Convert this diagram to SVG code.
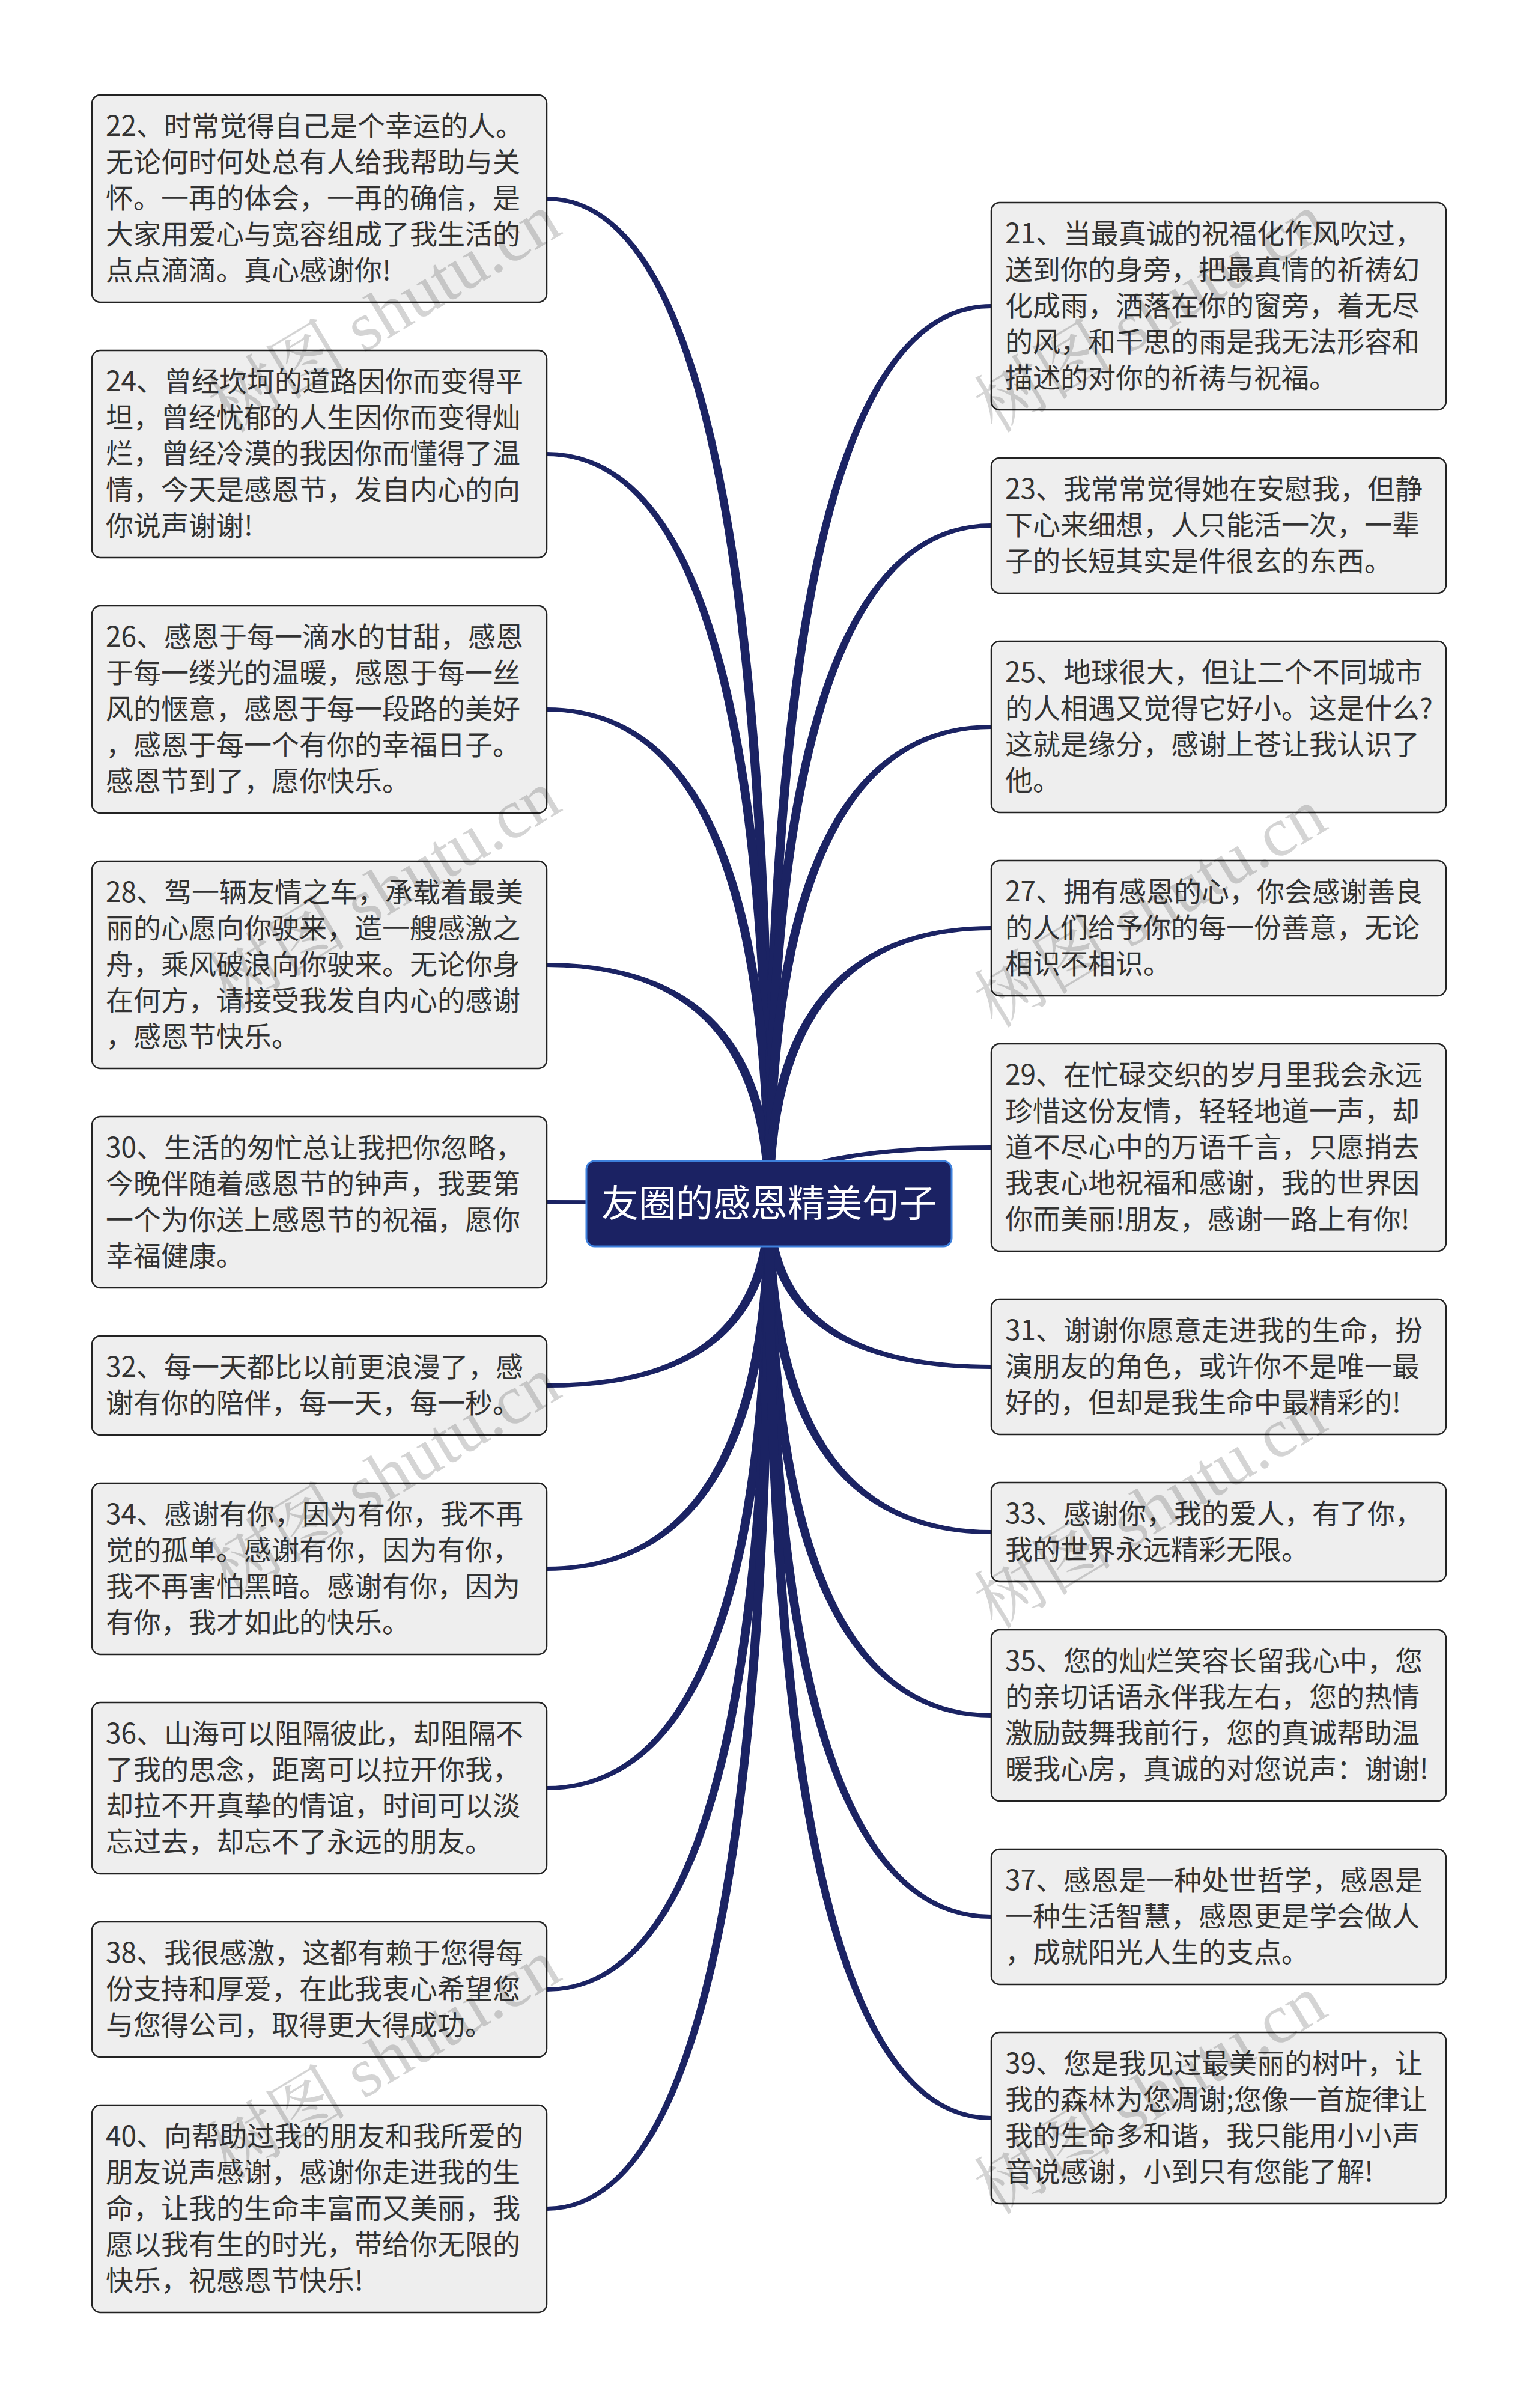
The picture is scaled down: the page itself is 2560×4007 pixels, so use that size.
<svg xmlns="http://www.w3.org/2000/svg" width="2560" height="4007" viewBox="0 0 2560 4007">
<style>
.bg{fill:#ffffff}
.leaf rect{fill:#eeeeee;stroke:#222222;stroke-width:2.5}
.leaf text{font-family:"Noto Sans CJK SC","Noto Sans",sans-serif;font-size:46px;fill:#333333}
.conn path{fill:#1b2363;stroke:none}
.root rect{fill:#1b2263;stroke:#3d7fdb;stroke-width:3}
.root text{font-family:"Noto Sans CJK SC","Noto Sans",sans-serif;font-size:62px;fill:#ffffff;text-anchor:middle}
.wm text{font-family:"Liberation Serif","Noto Serif CJK SC","Noto Sans CJK SC",serif;font-size:116px;fill:#000000;fill-opacity:0.17;text-anchor:middle}
</style>
<rect class="bg" x="0" y="0" width="2560" height="4007"/>
<g class="conn" id="connectors">
<path d="M1288,2003 Q1288,327 910,327 L910,334 Q1272,334 1272,2003 Z"/>
<path d="M1288,2003 Q1288,752 910,752 L910,759 Q1272,759 1272,2003 Z"/>
<path d="M1288,2003 Q1288,1177 910,1177 L910,1184 Q1272,1184 1272,2003 Z"/>
<path d="M1288,2003 Q1288,1602 910,1602 L910,1609 Q1272,1609 1272,2003 Z"/>
<path d="M1288,2003 Q1288,1997 910,1997 L910,2004 Q1272,2004 1272,2003 Z"/>
<path d="M1288,2003 Q1288,2309 910,2309 L910,2302 Q1272,2302 1272,2003 Z"/>
<path d="M1288,2003 Q1288,2614 910,2614 L910,2607 Q1272,2607 1272,2003 Z"/>
<path d="M1288,2003 Q1288,2979 910,2979 L910,2972 Q1272,2972 1272,2003 Z"/>
<path d="M1288,2003 Q1288,3314 910,3314 L910,3307 Q1272,3307 1272,2003 Z"/>
<path d="M1288,2003 Q1288,3679 910,3679 L910,3672 Q1272,3672 1272,2003 Z"/>
<path d="M1272,2003 Q1272,506 1650,506 L1650,513 Q1288,513 1288,2003 Z"/>
<path d="M1272,2003 Q1272,871 1650,871 L1650,878 Q1288,878 1288,2003 Z"/>
<path d="M1272,2003 Q1272,1206 1650,1206 L1650,1213 Q1288,1213 1288,2003 Z"/>
<path d="M1272,2003 Q1272,1541 1650,1541 L1650,1548 Q1288,1548 1288,2003 Z"/>
<path d="M1272,2003 Q1272,1906 1650,1906 L1650,1913 Q1288,1913 1288,2003 Z"/>
<path d="M1272,2003 Q1272,2278 1650,2278 L1650,2271 Q1288,2271 1288,2003 Z"/>
<path d="M1272,2003 Q1272,2553 1650,2553 L1650,2546 Q1288,2546 1288,2003 Z"/>
<path d="M1272,2003 Q1272,2858 1650,2858 L1650,2851 Q1288,2851 1288,2003 Z"/>
<path d="M1272,2003 Q1272,3193 1650,3193 L1650,3186 Q1288,3186 1288,2003 Z"/>
<path d="M1272,2003 Q1272,3528 1650,3528 L1650,3521 Q1288,3521 1288,2003 Z"/>
</g>
<g class="root" id="root">
<rect x="976" y="1932" width="608" height="142" rx="14"/>
<text x="1280" y="2025">友圈的感恩精美句子</text>
</g>
<g class="leaf" id="n22">
<rect x="153" y="158" width="757" height="345" rx="14"/>
<text x="176" y="226">22、时常觉得自己是个幸运的人。</text>
<text x="176" y="286">无论何时何处总有人给我帮助与关</text>
<text x="176" y="346">怀。一再的体会，一再的确信，是</text>
<text x="176" y="406">大家用爱心与宽容组成了我生活的</text>
<text x="176" y="466">点点滴滴。真心感谢你!</text>
</g>
<g class="leaf" id="n24">
<rect x="153" y="583" width="757" height="345" rx="14"/>
<text x="176" y="651">24、曾经坎坷的道路因你而变得平</text>
<text x="176" y="711">坦，曾经忧郁的人生因你而变得灿</text>
<text x="176" y="771">烂，曾经冷漠的我因你而懂得了温</text>
<text x="176" y="831">情，今天是感恩节，发自内心的向</text>
<text x="176" y="891">你说声谢谢!</text>
</g>
<g class="leaf" id="n26">
<rect x="153" y="1008" width="757" height="345" rx="14"/>
<text x="176" y="1076">26、感恩于每一滴水的甘甜，感恩</text>
<text x="176" y="1136">于每一缕光的温暖，感恩于每一丝</text>
<text x="176" y="1196">风的惬意，感恩于每一段路的美好</text>
<text x="176" y="1256">，感恩于每一个有你的幸福日子。</text>
<text x="176" y="1316">感恩节到了，愿你快乐。</text>
</g>
<g class="leaf" id="n28">
<rect x="153" y="1433" width="757" height="345" rx="14"/>
<text x="176" y="1501">28、驾一辆友情之车，承载着最美</text>
<text x="176" y="1561">丽的心愿向你驶来，造一艘感激之</text>
<text x="176" y="1621">舟，乘风破浪向你驶来。无论你身</text>
<text x="176" y="1681">在何方，请接受我发自内心的感谢</text>
<text x="176" y="1741">，感恩节快乐。</text>
</g>
<g class="leaf" id="n30">
<rect x="153" y="1858" width="757" height="285" rx="14"/>
<text x="176" y="1926">30、生活的匆忙总让我把你忽略，</text>
<text x="176" y="1986">今晚伴随着感恩节的钟声，我要第</text>
<text x="176" y="2046">一个为你送上感恩节的祝福，愿你</text>
<text x="176" y="2106">幸福健康。</text>
</g>
<g class="leaf" id="n32">
<rect x="153" y="2223" width="757" height="165" rx="14"/>
<text x="176" y="2291">32、每一天都比以前更浪漫了，感</text>
<text x="176" y="2351">谢有你的陪伴，每一天，每一秒。</text>
</g>
<g class="leaf" id="n34">
<rect x="153" y="2468" width="757" height="285" rx="14"/>
<text x="176" y="2536">34、感谢有你，因为有你，我不再</text>
<text x="176" y="2596">觉的孤单。感谢有你，因为有你，</text>
<text x="176" y="2656">我不再害怕黑暗。感谢有你，因为</text>
<text x="176" y="2716">有你，我才如此的快乐。</text>
</g>
<g class="leaf" id="n36">
<rect x="153" y="2833" width="757" height="285" rx="14"/>
<text x="176" y="2901">36、山海可以阻隔彼此，却阻隔不</text>
<text x="176" y="2961">了我的思念，距离可以拉开你我，</text>
<text x="176" y="3021">却拉不开真挚的情谊，时间可以淡</text>
<text x="176" y="3081">忘过去，却忘不了永远的朋友。</text>
</g>
<g class="leaf" id="n38">
<rect x="153" y="3198" width="757" height="225" rx="14"/>
<text x="176" y="3266">38、我很感激，这都有赖于您得每</text>
<text x="176" y="3326">份支持和厚爱，在此我衷心希望您</text>
<text x="176" y="3386">与您得公司，取得更大得成功。</text>
</g>
<g class="leaf" id="n40">
<rect x="153" y="3503" width="757" height="345" rx="14"/>
<text x="176" y="3571">40、向帮助过我的朋友和我所爱的</text>
<text x="176" y="3631">朋友说声感谢，感谢你走进我的生</text>
<text x="176" y="3691">命，让我的生命丰富而又美丽，我</text>
<text x="176" y="3751">愿以我有生的时光，带给你无限的</text>
<text x="176" y="3811">快乐，祝感恩节快乐!</text>
</g>
<g class="leaf" id="n21">
<rect x="1650" y="337" width="757" height="345" rx="14"/>
<text x="1673" y="405">21、当最真诚的祝福化作风吹过，</text>
<text x="1673" y="465">送到你的身旁，把最真情的祈祷幻</text>
<text x="1673" y="525">化成雨，洒落在你的窗旁，着无尽</text>
<text x="1673" y="585">的风，和千思的雨是我无法形容和</text>
<text x="1673" y="645">描述的对你的祈祷与祝福。</text>
</g>
<g class="leaf" id="n23">
<rect x="1650" y="762" width="757" height="225" rx="14"/>
<text x="1673" y="830">23、我常常觉得她在安慰我，但静</text>
<text x="1673" y="890">下心来细想，人只能活一次，一辈</text>
<text x="1673" y="950">子的长短其实是件很玄的东西。</text>
</g>
<g class="leaf" id="n25">
<rect x="1650" y="1067" width="757" height="285" rx="14"/>
<text x="1673" y="1135">25、地球很大，但让二个不同城市</text>
<text x="1673" y="1195">的人相遇又觉得它好小。这是什么?</text>
<text x="1673" y="1255">这就是缘分，感谢上苍让我认识了</text>
<text x="1673" y="1315">他。</text>
</g>
<g class="leaf" id="n27">
<rect x="1650" y="1432" width="757" height="225" rx="14"/>
<text x="1673" y="1500">27、拥有感恩的心，你会感谢善良</text>
<text x="1673" y="1560">的人们给予你的每一份善意，无论</text>
<text x="1673" y="1620">相识不相识。</text>
</g>
<g class="leaf" id="n29">
<rect x="1650" y="1737" width="757" height="345" rx="14"/>
<text x="1673" y="1805">29、在忙碌交织的岁月里我会永远</text>
<text x="1673" y="1865">珍惜这份友情，轻轻地道一声，却</text>
<text x="1673" y="1925">道不尽心中的万语千言，只愿捎去</text>
<text x="1673" y="1985">我衷心地祝福和感谢，我的世界因</text>
<text x="1673" y="2045">你而美丽!朋友，感谢一路上有你!</text>
</g>
<g class="leaf" id="n31">
<rect x="1650" y="2162" width="757" height="225" rx="14"/>
<text x="1673" y="2230">31、谢谢你愿意走进我的生命，扮</text>
<text x="1673" y="2290">演朋友的角色，或许你不是唯一最</text>
<text x="1673" y="2350">好的，但却是我生命中最精彩的!</text>
</g>
<g class="leaf" id="n33">
<rect x="1650" y="2467" width="757" height="165" rx="14"/>
<text x="1673" y="2535">33、感谢你，我的爱人，有了你，</text>
<text x="1673" y="2595">我的世界永远精彩无限。</text>
</g>
<g class="leaf" id="n35">
<rect x="1650" y="2712" width="757" height="285" rx="14"/>
<text x="1673" y="2780">35、您的灿烂笑容长留我心中，您</text>
<text x="1673" y="2840">的亲切话语永伴我左右，您的热情</text>
<text x="1673" y="2900">激励鼓舞我前行，您的真诚帮助温</text>
<text x="1673" y="2960">暖我心房，真诚的对您说声：谢谢!</text>
</g>
<g class="leaf" id="n37">
<rect x="1650" y="3077" width="757" height="225" rx="14"/>
<text x="1673" y="3145">37、感恩是一种处世哲学，感恩是</text>
<text x="1673" y="3205">一种生活智慧，感恩更是学会做人</text>
<text x="1673" y="3265">，成就阳光人生的支点。</text>
</g>
<g class="leaf" id="n39">
<rect x="1650" y="3382" width="757" height="285" rx="14"/>
<text x="1673" y="3450">39、您是我见过最美丽的树叶，让</text>
<text x="1673" y="3510">我的森林为您凋谢;您像一首旋律让</text>
<text x="1673" y="3570">我的生命多和谐，我只能用小小声</text>
<text x="1673" y="3630">音说感谢，小到只有您能了解!</text>
</g>
<g class="wm" id="watermarks">
<text transform="translate(660,555) rotate(-31)">树图 shutu.cn</text>
<text transform="translate(660,1515) rotate(-31)">树图 shutu.cn</text>
<text transform="translate(660,2490) rotate(-31)">树图 shutu.cn</text>
<text transform="translate(660,3460) rotate(-31)">树图 shutu.cn</text>
<text transform="translate(1935,555) rotate(-31)">树图 shutu.cn</text>
<text transform="translate(1935,1545) rotate(-31)">树图 shutu.cn</text>
<text transform="translate(1935,2545) rotate(-31)">树图 shutu.cn</text>
<text transform="translate(1935,3520) rotate(-31)">树图 shutu.cn</text>
</g>
</svg>
